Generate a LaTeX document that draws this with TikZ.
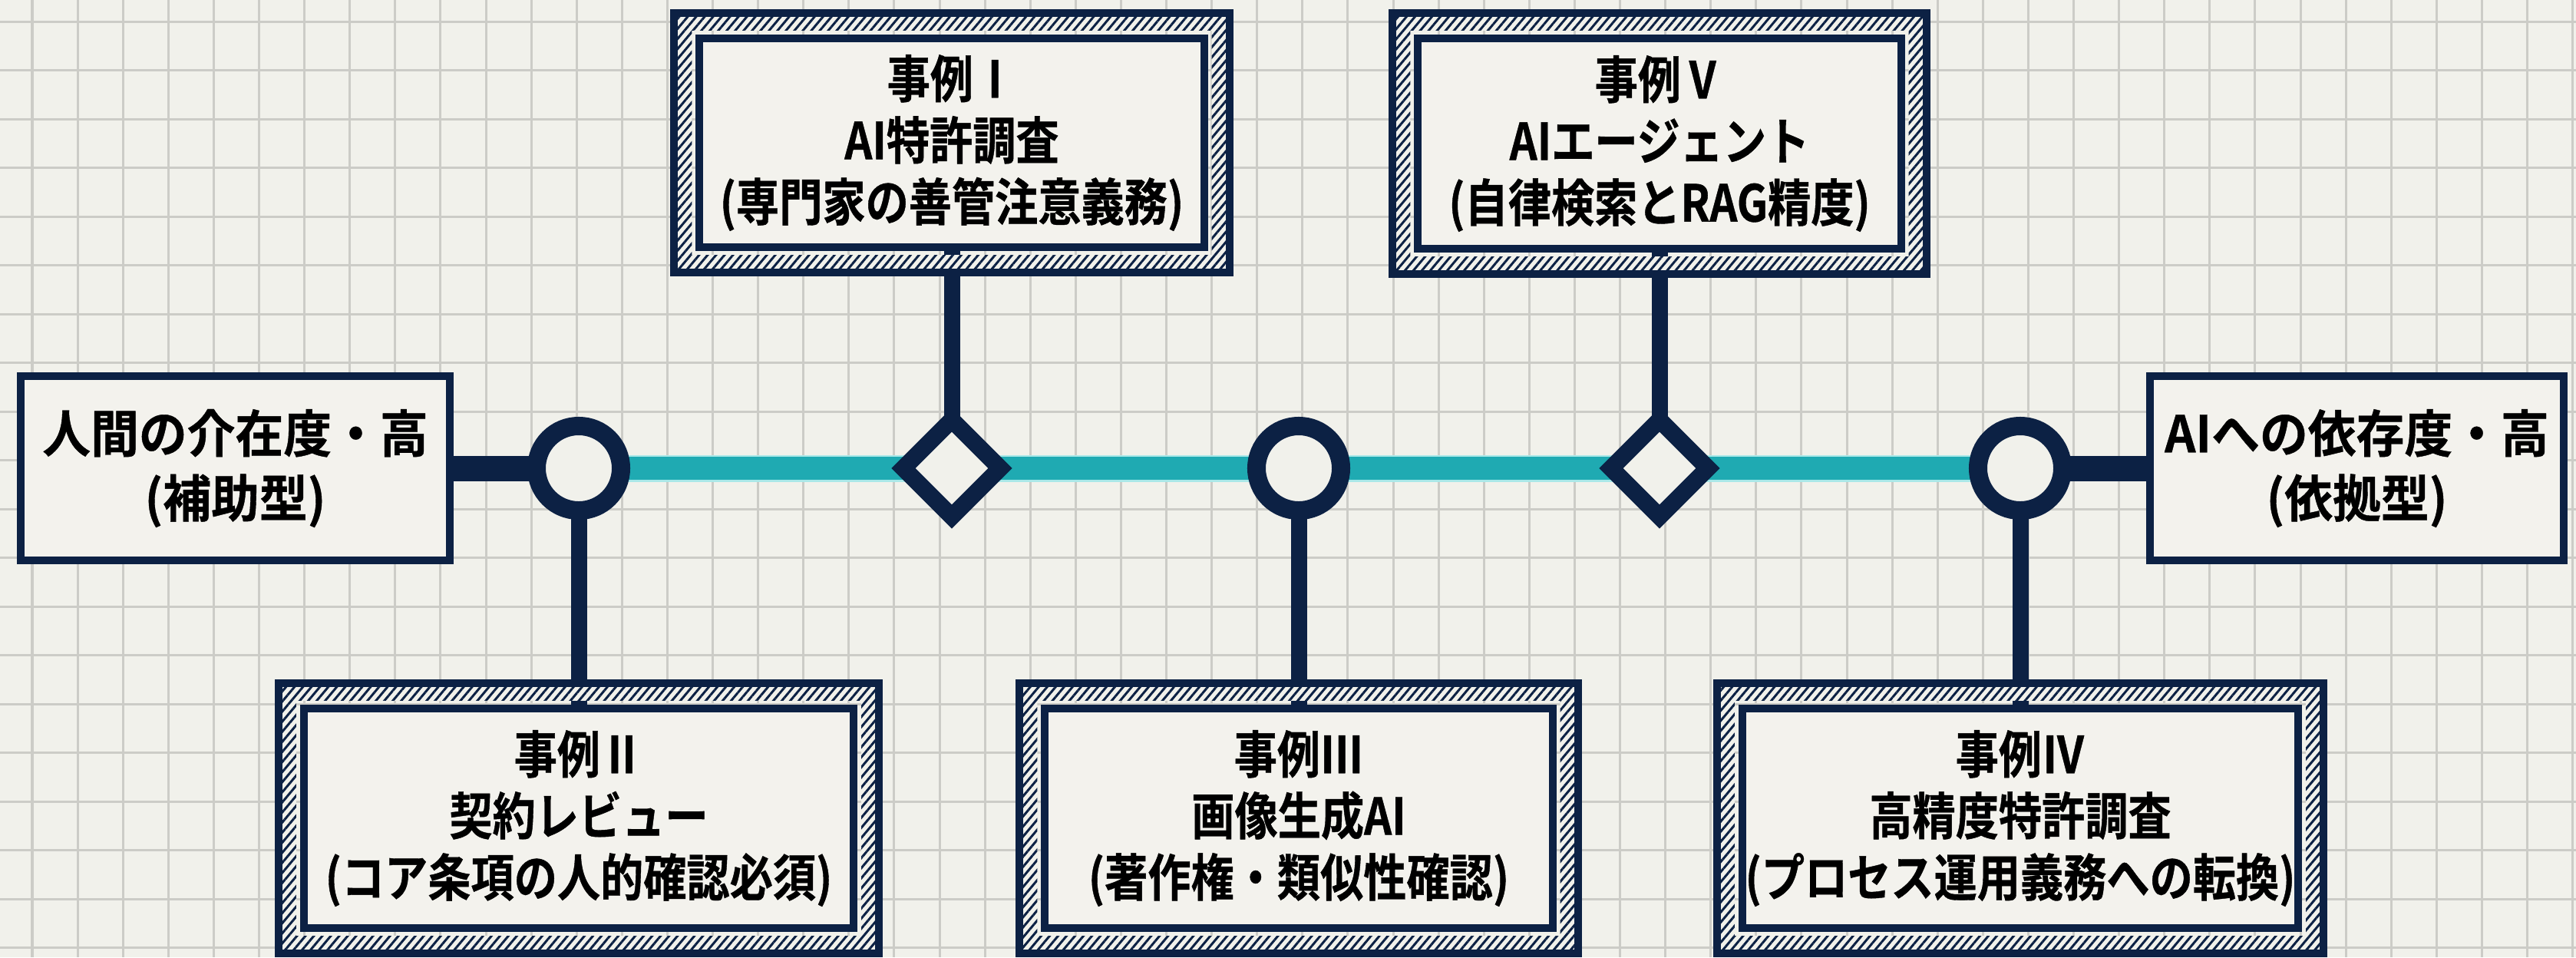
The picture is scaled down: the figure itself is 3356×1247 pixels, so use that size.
\documentclass[tikz,border=0pt]{standalone}
\usepackage{fontspec}
\newfontfamily\jpA{Noto Sans CJK JP Bold}[FakeStretch=0.85,FakeBold=0.6]
\newfontfamily\jpB{Noto Sans CJK JP Bold}[FakeStretch=0.95,FakeBold=0.6]
\usetikzlibrary{shapes.geometric,patterns.meta,calc}
\definecolor{navy}{RGB}{12,33,68}
\definecolor{paper}{RGB}{241,241,235}
\definecolor{boxfill}{RGB}{243,242,237}
\definecolor{gridc}{RGB}{204,204,199}
\definecolor{tealc}{RGB}{31,170,178}
\definecolor{haloc}{RGB}{170,232,232}
\pgfdeclarelayer{bg}\pgfdeclarelayer{conn}
\pgfsetlayers{bg,conn,main}
\newcommand\hatchframe[1]{%
  \fill[paper, even odd rule] ([shift={(-28,-28)}]#1.north west) rectangle ([shift={(28,28)}]#1.south east)
     ([shift={(-5,-5)}]#1.north west) rectangle ([shift={(5,5)}]#1.south east);
  \fill[pattern={Lines[angle=50,distance=2.4pt,line width=0.85pt]}, pattern color=navy, even odd rule]
     ([shift={(-28,-28)}]#1.north west) rectangle ([shift={(28,28)}]#1.south east)
     ([shift={(-5,-5)}]#1.north west) rectangle ([shift={(5,5)}]#1.south east);
  \draw[navy, line width=0.1cm] ([shift={(-28,-28)}]#1.north west) rectangle ([shift={(28,28)}]#1.south east);
}
\tikzset{
  casebox/.style={rectangle, draw=navy, line width=0.1cm, fill=boxfill, inner sep=0pt, align=center,
     text=black, font=\jpA\fontsize{18.8pt}{22.8pt}\selectfont},
  sidebox/.style={rectangle, draw=navy, line width=0.1cm, fill=boxfill, inner sep=0pt, align=center,
     text=black, font=\jpB\fontsize{18.8pt}{24pt}\selectfont},
  ring/.style={circle, draw=navy, line width=0.24cm, fill=paper, minimum size=1.1cm, inner sep=0pt},
  gem/.style={diamond, aspect=1, draw=navy, line width=0.22cm, fill=paper, minimum size=1.35cm, inner sep=0pt},
  gridline/.style={gridc, line width=0.03cm},
  vconn/.style={navy, line width=0.21cm},
  hconn/.style={navy, line width=0.33cm},
}
\begin{document}
\begin{tikzpicture}[x=0.01cm,y=-0.01cm]
\useasboundingbox (0,0) rectangle (3356,1247);
\begin{pgfonlayer}{bg}
  \fill[paper] (0,0) rectangle (3356,1247);
  \foreach \k in {0,...,56} \draw[gridline] ({42+59.1*\k},0) -- ({42+59.1*\k},1247);
  \foreach \k in {0,...,19} \draw[gridline] (0,{28+63.5*\k}) -- (3356,{28+63.5*\k});
\end{pgfonlayer}

% side boxes
\node[sidebox, minimum width=5.59cm, minimum height=2.4cm] (L) at (306.5,610) {人間の介在度・高\\(補助型)};
\node[sidebox, minimum width=5.39cm, minimum height=2.4cm] (R) at (3070.5,610) {AIへの依存度・高\\(依拠型)};

% case boxes
\node[casebox, minimum width=6.57cm, minimum height=2.72cm] (I) at (1240,186) {事例Ⅰ\\AI特許調査\\(専門家の善管注意義務)};
\node[casebox, minimum width=6.29cm, minimum height=2.74cm] (V) at (2162,187) {事例Ⅴ\\AIエージェント\\(自律検索とRAG精度)};
\node[casebox, minimum width=7.16cm, minimum height=2.86cm] (II) at (754,1066) {事例Ⅱ\\契約レビュー\\(コア条項の人的確認必須)};
\node[casebox, minimum width=6.61cm, minimum height=2.86cm] (III) at (1692,1066) {事例Ⅲ\\画像生成AI\\(著作権・類似性確認)};
\node[casebox, minimum width=7.24cm, minimum height=2.86cm] (IV) at (2632,1066) {事例Ⅳ\\高精度特許調査\\(プロセス運用義務への転換)};
\hatchframe{I}\hatchframe{V}\hatchframe{II}\hatchframe{III}\hatchframe{IV}

% junctions
\node[ring] (c1) at (754,610) {};
\node[gem]  (d1) at (1240,610) {};
\node[ring] (c2) at (1692,610) {};
\node[gem]  (d2) at (2162,610) {};
\node[ring] (c3) at (2632,610) {};

\begin{pgfonlayer}{conn}
  \draw[haloc, line width=0.35cm] (c1.center) -- (c3.center);
  \draw[tealc, line width=0.30cm] (c1.center) -- (c3.center);
  \draw[hconn] (L.center) -- (c1.center);
  \draw[hconn] (c3.center) -- (R.center);
  \draw[vconn] (I.center) -- (d1.center);
  \draw[vconn] (V.center) -- (d2.center);
  \draw[vconn] (c1.center) -- (II.center);
  \draw[vconn] (c2.center) -- (III.center);
  \draw[vconn] (c3.center) -- (IV.center);
\end{pgfonlayer}
\end{tikzpicture}
\end{document}
